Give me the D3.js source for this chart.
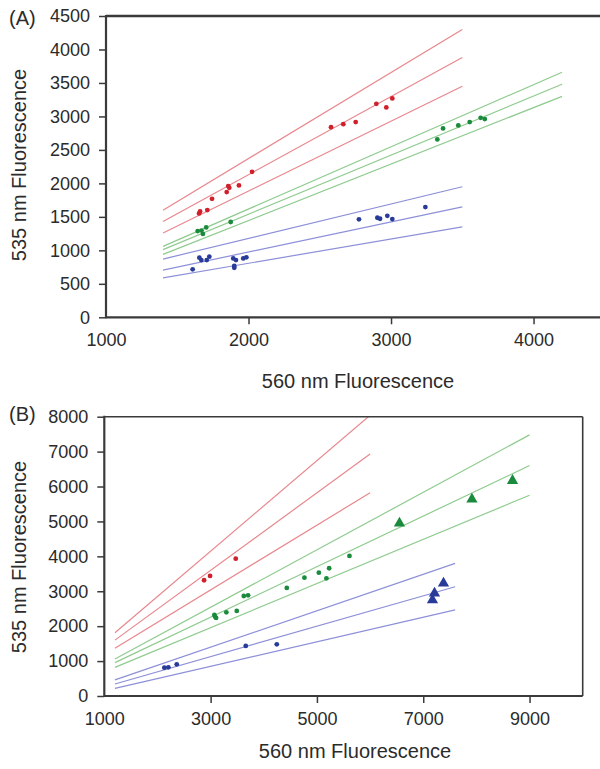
<!DOCTYPE html>
<html>
<head>
<meta charset="utf-8">
<script src="https://cdn.jsdelivr.net/npm/d3@7"></script>
<style>
  html, body { margin: 0; padding: 0; background: #fff; }
  svg { display: block; }
  text { font-family: "Liberation Sans", Arial, sans-serif; }
</style>
</head>
<body>
<svg id="chart" width="600" height="769"></svg>
<script>
// ---------- Panel A data ----------
const aXTicks = [1000, 2000, 3000, 4000];
const aYTicks = [0, 500, 1000, 1500, 2000, 2500, 3000, 3500, 4000, 4500];
const aRedX = [1653, 1660, 1711, 1744, 1847, 1858, 1865, 1933, 2025, 2579, 2665, 2752, 2897, 2967, 3009];
const aRedY = [1552, 1580, 1601, 1770, 1870, 1960, 1934, 1970, 2173, 2840, 2885, 2915, 3188, 3134, 3269];
const aGreenX = [1643, 1670, 1680, 1703, 1875, 3325, 3365, 3472, 3552, 3629, 3658];
const aGreenY = [1288, 1295, 1245, 1343, 1423, 2657, 2821, 2866, 2915, 2979, 2960];
const aBlueX = [1608, 1655, 1669, 1707, 1725, 1893, 1912, 1900, 1900, 1963, 1985, 2775, 2904, 2923, 2974, 3009, 3241];
const aBlueY = [716, 890, 855, 855, 905, 880, 855, 766, 740, 880, 895, 1463, 1487, 1472, 1516, 1467, 1646];
// fitted line endpoints [x0, y0, x1, y1]
const aRedLines = [[1400, 1600, 3500, 4300], [1400, 1430, 3500, 3880], [1400, 1260, 3500, 3450]];
const aGreenLines = [[1400, 1060, 4200, 3660], [1400, 1010, 4200, 3480], [1400, 940, 4200, 3300]];
const aBlueLines = [[1400, 870, 3500, 1950], [1400, 705, 3500, 1650], [1400, 590, 3500, 1350]];

// ---------- Panel B data ----------
const bXTicks = [1000, 3000, 5000, 7000, 9000];
const bYTicks = [0, 1000, 2000, 3000, 4000, 5000, 6000, 7000, 8000];
const bRedX = [2877, 2990, 3473];
const bRedY = [3315, 3438, 3934];
const bGreenX = [3071, 3084, 3103, 3296, 3492, 3624, 3705, 4433, 4765, 5036, 5230, 5179, 5612];
const bGreenY = [2321, 2272, 2235, 2398, 2436, 2865, 2885, 3095, 3390, 3533, 3659, 3372, 4011];
const bGreenTriX = [6553, 7916, 8680];
const bGreenTriY = [4948, 5635, 6169];
const bBlueX = [2130, 2205, 2363, 3661, 4245];
const bBlueY = [811, 822, 908, 1433, 1481];
const bBlueTriX = [7174, 7212, 7381];
const bBlueTriY = [2751, 2943, 3229];
const bRedLines = [[1200, 1810, 6000, 8040], [1200, 1600, 6000, 6930], [1200, 1370, 6000, 5820]];
const bGreenLines = [[1200, 1060, 9000, 7480], [1200, 955, 9000, 6600], [1200, 820, 9000, 5750]];
const bBlueLines = [[1200, 460, 7600, 3800], [1200, 345, 7600, 3130], [1200, 220, 7600, 2465]];

const xTitle = "560 nm Fluorescence";
const yTitle = "535 nm Fluorescence";

// ---------- styles ----------
const C = {
  redPt: "#d0202c", redLn: "#e8878d",
  greenPt: "#1a8a3c", greenLn: "#8fcb8f",
  bluePt: "#283b98", blueLn: "#8d90d8",
  axis: "#3a3a3a", text: "#2b2b2b"
};

const svg = d3.select("#chart");

function drawPanel(o) {
  const x = d3.scaleLinear().domain(o.xDomain).range([o.left, o.right]);
  const y = d3.scaleLinear().domain(o.yDomain).range([o.bottom, o.top]);
  const g = svg.append("g");

  const clipId = "clip" + o.label.replace(/\W/g, "");
  g.append("clipPath").attr("id", clipId).append("rect")
    .attr("x", o.left).attr("y", o.top)
    .attr("width", o.right - o.left).attr("height", o.bottom - o.top);

  const plot = g.append("g").attr("clip-path", `url(#${clipId})`);

  // fitted lines
  o.lines.forEach(([set, col]) => {
    set.forEach(([x0, y0, x1, y1]) => {
      plot.append("line")
        .attr("x1", x(x0)).attr("y1", y(y0))
        .attr("x2", x(x1)).attr("y2", y(y1))
        .attr("stroke", col).attr("stroke-width", 1.2);
    });
  });

  // dots
  o.dots.forEach(([xs, ys, col]) => {
    plot.selectAll(null).data(xs).enter().append("circle")
      .attr("cx", d => x(d)).attr("cy", (d, i) => y(ys[i]))
      .attr("r", 2.4).attr("fill", col);
  });
  // triangles
  const tri = d3.symbol().type(d3.symbolTriangle).size(55);
  (o.tris || []).forEach(([xs, ys, col]) => {
    plot.selectAll(null).data(xs).enter().append("path")
      .attr("d", tri)
      .attr("transform", (d, i) => `translate(${x(d)},${y(ys[i])})`)
      .attr("fill", col);
  });

  // frame (top / right)
  g.append("line").attr("x1", o.left).attr("x2", o.frameRight).attr("y1", o.top).attr("y2", o.top)
    .attr("stroke", C.axis).attr("stroke-width", o.topWidth);
  if (o.frameRight < 600) {
    g.append("line").attr("x1", o.right).attr("x2", o.right).attr("y1", o.top).attr("y2", o.bottom)
      .attr("stroke", C.axis).attr("stroke-width", o.topWidth);
  }

  // axes
  const xAxis = d3.axisBottom(x).tickValues(o.xTicks).tickSize(7).tickPadding(9).tickFormat(d3.format("d"));
  const yAxis = d3.axisLeft(y).tickValues(o.yTicks).tickSize(7).tickPadding(9).tickFormat(d3.format("d"));
  const gx = g.append("g").attr("transform", `translate(0,${o.bottom})`).call(xAxis);
  const gy = g.append("g").attr("transform", `translate(${o.left},0)`).call(yAxis);
  [gx, gy].forEach(a => {
    a.select(".domain").remove();
    a.selectAll(".tick line").attr("stroke", C.axis).attr("stroke-width", 1.5);
    a.selectAll(".tick text").attr("fill", C.text).style("font-size", "18px")
      .style("font-family", '"Liberation Sans", Arial, sans-serif');
  });
  gx.select(".tick line").remove();
  // axis lines
  g.append("line").attr("x1", o.left).attr("x2", o.frameRight).attr("y1", o.bottom).attr("y2", o.bottom)
    .attr("stroke", C.axis).attr("stroke-width", 2.2);
  g.append("line").attr("x1", o.left).attr("x2", o.left).attr("y1", o.top - 1).attr("y2", o.bottom + 1)
    .attr("stroke", C.axis).attr("stroke-width", 2.2);

  // titles
  g.append("text").attr("x", o.xTitleX).attr("y", o.xTitleY).attr("text-anchor", "middle")
    .attr("fill", C.text).style("font-size", "20px").text(xTitle);
  g.append("text").attr("transform", `translate(${o.yTitleX},${o.yTitleY}) rotate(-90)`)
    .attr("text-anchor", "middle").attr("fill", C.text).style("font-size", "20px").text(yTitle);
  g.append("text").attr("x", 9).attr("y", o.labelY).attr("fill", C.text)
    .style("font-size", "20px").text(o.label);
}

drawPanel({
  label: "(A)", labelY: 25,
  xDomain: [1000, 4500], yDomain: [0, 4500],
  left: 106, right: 604.8, top: 16, bottom: 317.3, frameRight: 604.8, topWidth: 2.4,
  xTicks: aXTicks, yTicks: aYTicks,
  lines: [[aRedLines, C.redLn], [aGreenLines, C.greenLn], [aBlueLines, C.blueLn]],
  dots: [[aRedX, aRedY, C.redPt], [aGreenX, aGreenY, C.greenPt], [aBlueX, aBlueY, C.bluePt]],
  xTitleX: 358, xTitleY: 388, yTitleX: 26, yTitleY: 165
});

drawPanel({
  label: "(B)", labelY: 421,
  xDomain: [1000, 10000], yDomain: [0, 8000],
  left: 104.3, right: 582.7, top: 416.7, bottom: 696, frameRight: 582.7, topWidth: 1.6,
  xTicks: bXTicks, yTicks: bYTicks,
  lines: [[bRedLines, C.redLn], [bGreenLines, C.greenLn], [bBlueLines, C.blueLn]],
  dots: [[bRedX, bRedY, C.redPt], [bGreenX, bGreenY, C.greenPt], [bBlueX, bBlueY, C.bluePt]],
  tris: [[bGreenTriX, bGreenTriY, C.greenPt], [bBlueTriX, bBlueTriY, C.bluePt]],
  xTitleX: 355, xTitleY: 758, yTitleX: 26, yTitleY: 557
});
</script>
</body>
</html>
